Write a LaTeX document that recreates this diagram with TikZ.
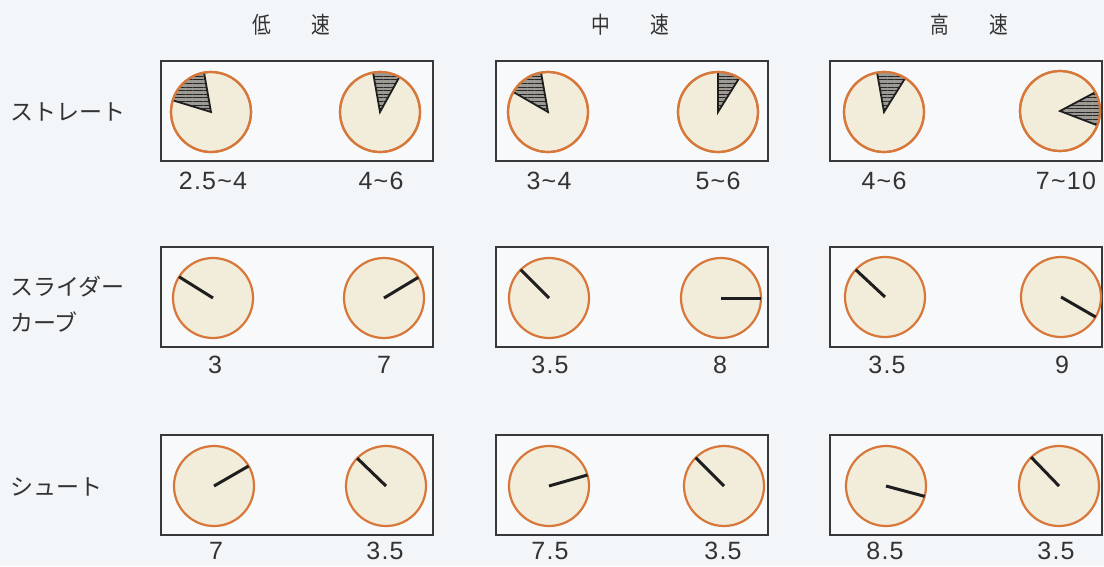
\documentclass[tikz,border=0pt]{standalone}
\usepackage{fontspec}
\setmainfont{Liberation Sans}
\newfontfamily\numfont[LetterSpace=5]{Liberation Sans}
\newfontfamily\jpfont{Noto Sans CJK JP}
\usetikzlibrary{patterns.meta}
\definecolor{bg}{HTML}{F3F6F9}
\definecolor{panelbg}{HTML}{F7F9FB}
\definecolor{ring}{HTML}{D8773A}
\definecolor{face}{HTML}{F2EDDB}
\definecolor{ink}{HTML}{333333}
\definecolor{frame}{HTML}{383838}
\definecolor{hatchbg}{HTML}{9C9A92}
\definecolor{handc}{HTML}{1E1E1E}

\newcommand\pitchwedge[3]{%
  \fill[hatchbg] (#1.center) -- (#1.#2) arc[start angle=#2, end angle=#3, radius=40pt] -- cycle;
  \fill[pattern={Lines[angle=0,distance=3.6pt,line width=1pt]}, pattern color=black!85]
    (#1.center) -- (#1.#2) arc[start angle=#2, end angle=#3, radius=40pt] -- cycle;
  \draw[edgeline] (#1.#2) -- (#1.center) -- (#1.#3);
  \draw[ringonly] (#1.center) circle[radius=40pt];
}

\begin{document}
\begin{tikzpicture}[x=1pt,y=-1pt,
  panel/.style={draw=frame, line width=2pt, fill=panelbg, minimum width=272pt, minimum height=100pt, inner sep=0pt, outer sep=0pt},
  clock/.style={circle, draw=ring, line width=2.2pt, fill=face, minimum size=80pt, inner sep=0pt, outer sep=0pt},
  ringonly/.style={draw=ring, line width=2.2pt},
  edgeline/.style={draw=handc, line width=1.8pt, line join=miter},
  hand/.style={draw=handc, line width=3pt},
  num/.style={text=ink, font=\numfont\fontsize{25}{28}\selectfont, inner sep=0pt},
  rowlab/.style={text=ink, font=\jpfont\fontsize{23}{36}\selectfont, inner sep=0pt, anchor=west, align=left},
  head/.style={text=ink, font=\jpfont\fontsize{22}{24}\selectfont, inner sep=0pt}
]
\useasboundingbox (0,0) rectangle (1104,566);
\fill[bg] (0,0) rectangle (1104,566);

% headers
\node[head] (h1) at (291,25) {\scalebox{0.85}[1.05]{低}\hspace{40pt}\scalebox{0.85}[1.05]{速}};
\node[head] (h2) at (630,25) {\scalebox{0.85}[1.05]{中}\hspace{40pt}\scalebox{0.85}[1.05]{速}};
\node[head] (h3) at (969,25) {\scalebox{0.85}[1.05]{高}\hspace{40pt}\scalebox{0.85}[1.05]{速}};

% row labels
\node[rowlab] (r1) at (10,112) {ストレート};
\node[rowlab] (r2) at (10,304) {スライダー\\カーブ};
\node[rowlab] (r3) at (10,487) {シュート};

% panels
\node[panel] (b11) at (297,111) {};
\node[panel] (b12) at (632,111) {};
\node[panel] (b13) at (966,111) {};
\node[panel] (b21) at (297,297) {};
\node[panel] (b22) at (632,297) {};
\node[panel] (b23) at (966,297) {};
\node[panel] (b31) at (297,485) {};
\node[panel] (b32) at (632,485) {};
\node[panel] (b33) at (966,485) {};

% clocks row 1
\node[clock] (c11a) at (211,112) {};
\node[clock] (c11b) at (380,112) {};
\node[clock] (c12a) at (548,112) {};
\node[clock] (c12b) at (718,112) {};
\node[clock] (c13a) at (884,112) {};
\node[clock] (c13b) at (1060,111) {};
% clocks row 2
\node[clock] (c21a) at (213,298) {};
\node[clock] (c21b) at (384,298) {};
\node[clock] (c22a) at (549,298) {};
\node[clock] (c22b) at (721,298) {};
\node[clock] (c23a) at (885,297) {};
\node[clock] (c23b) at (1061,297) {};
% clocks row 3
\node[clock] (c31a) at (214,486) {};
\node[clock] (c31b) at (386,486) {};
\node[clock] (c32a) at (549,486) {};
\node[clock] (c32b) at (724,486) {};
\node[clock] (c33a) at (886,486) {};
\node[clock] (c33b) at (1059,486) {};

% wedges row 1
\pitchwedge{c11a}{163}{100}
\pitchwedge{c11b}{100}{61}
\pitchwedge{c12a}{150}{100}
\pitchwedge{c12b}{90}{58}
\pitchwedge{c13a}{100}{58}
\pitchwedge{c13b}{28}{-21}

% hands row 2
\draw[hand] (c21a.center) -- (c21a.148);
\draw[hand] (c21b.center) -- (c21b.31);
\draw[hand] (c22a.center) -- (c22a.135);
\draw[hand] (c22b.center) -- (c22b.0);
\draw[hand] (c23a.center) -- (c23a.137);
\draw[hand] (c23b.center) -- (c23b.-30);
% hands row 3
\draw[hand] (c31a.center) -- (c31a.30);
\draw[hand] (c31b.center) -- (c31b.136);
\draw[hand] (c32a.center) -- (c32a.16);
\draw[hand] (c32b.center) -- (c32b.135);
\draw[hand] (c33a.center) -- (c33a.-15);
\draw[hand] (c33b.center) -- (c33b.134);

% labels row 1
\node[num] (l11a) at (213,181) {2.5\textasciitilde 4};
\node[num] (l11b) at (381,181) {4\textasciitilde 6};
\node[num] (l12a) at (549,181) {3\textasciitilde 4};
\node[num] (l12b) at (718,181) {5\textasciitilde 6};
\node[num] (l13a) at (884,181) {4\textasciitilde 6};
\node[num] (l13b) at (1066,181) {7\textasciitilde 10};
% labels row 2
\node[num] (l21a) at (215,365) {3};
\node[num] (l21b) at (384,365) {7};
\node[num] (l22a) at (550,365) {3.5};
\node[num] (l22b) at (720,365) {8};
\node[num] (l23a) at (887,365) {3.5};
\node[num] (l23b) at (1062,365) {9};
% labels row 3
\node[num] (l31a) at (216,551) {7};
\node[num] (l31b) at (385,551) {3.5};
\node[num] (l32a) at (550,551) {7.5};
\node[num] (l32b) at (723,551) {3.5};
\node[num] (l33a) at (885,551) {8.5};
\node[num] (l33b) at (1056,551) {3.5};
\end{tikzpicture}
\end{document}
